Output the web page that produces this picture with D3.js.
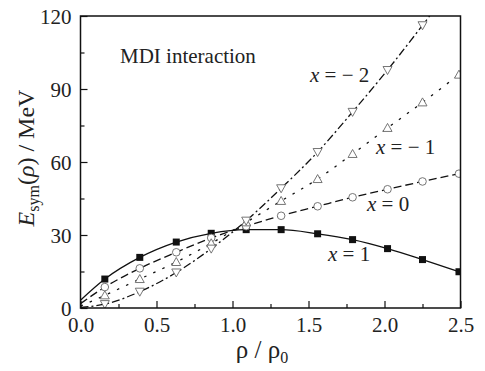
<!DOCTYPE html>
<html>
<head>
<meta charset="utf-8">
<script src="https://cdn.jsdelivr.net/npm/d3@7/dist/d3.min.js"></script>
</head>
<body style="margin:0">
<script>
var width = 485;
var height = 371;
var margin = { left: 80.5, top: 16, right: 24.5, bottom: 63 };
var plotW = width - margin.left - margin.right;
var plotH = height - margin.top - margin.bottom;
var fontName = "'Times New Roman', 'Liberation Serif', Tinos, serif";

// marker positions (rho / rho0)
var rho = [0.16, 0.39, 0.63, 0.86, 1.09, 1.32, 1.56, 1.79, 2.02, 2.25, 2.49];
// E_sym values at the markers, one list per x
var esymX1 = [11.9, 20.8, 27.1, 30.7, 32.2, 32.2, 30.5, 28.1, 24.4, 19.9, 14.9];
var esymX0 = [8.6, 16.3, 22.9, 28.8, 33.6, 37.9, 41.8, 45.5, 48.8, 52.0, 55.2];
var esymXm1 = [5.2, 11.9, 18.9, 26.6, 35.2, 44.0, 53.0, 63.3, 74.0, 84.5, 95.9];
var esymXm2 = [1.6, 6.7, 14.6, 24.4, 35.9, 49.2, 64.1, 80.6, 97.8, 116.2, 136];
// value of each curve at rho = 0
var esymAtZero = [3.2, 1.8, 0.8, 0.2];

var xTicks = [0, 0.5, 1.0, 1.5, 2.0, 2.5];
var xMinor = [0.25, 0.75, 1.25, 1.75, 2.25];
var yTicks = [0, 30, 60, 90, 120];
var yMinor = [15, 45, 75, 105];

var series = [
  { name: "1", values: esymX1, zero: esymAtZero[0], dash: null, marker: "square" },
  { name: "0", values: esymX0, zero: esymAtZero[1], dash: "8,4", marker: "circle" },
  { name: "\u2212 1", values: esymXm1, zero: esymAtZero[2], dash: "2.5,7.5", marker: "up" },
  { name: "\u2212 2", values: esymXm2, zero: esymAtZero[3], dash: "8,3,2,3", marker: "down" }
];

var svg = d3.select("body").append("svg")
  .attr("width", width)
  .attr("height", height);

var x = d3.scaleLinear().domain([0, 2.5]).range([0, plotW]);
var y = d3.scaleLinear().domain([0, 120]).range([plotH, 0]);

var g = svg.append("g").attr("transform", "translate(" + margin.left + "," + margin.top + ")");

g.append("clipPath").attr("id", "clip")
  .append("rect").attr("width", plotW).attr("height", plotH);

// curves
var line = d3.line()
  .x(function (d) { return x(d[0]); })
  .y(function (d) { return y(d[1]); })
  .curve(d3.curveMonotoneX);

var plot = g.append("g").attr("clip-path", "url(#clip)");

series.forEach(function (s) {
  var pts = [[0, s.zero]].concat(rho.map(function (r, i) { return [r, s.values[i]]; }));
  plot.append("path")
    .attr("d", line(pts))
    .attr("fill", "none")
    .attr("stroke", "#111")
    .attr("stroke-width", 1.3)
    .attr("stroke-dasharray", s.dash);
});

// markers
series.forEach(function (s) {
  var m = plot.selectAll(null)
    .data(rho.map(function (r, i) { return [r, s.values[i]]; }))
    .enter();
  if (s.marker == "square") {
    m.append("rect")
      .attr("x", function (d) { return x(d[0]) - 3.5; })
      .attr("y", function (d) { return y(d[1]) - 3.5; })
      .attr("width", 7).attr("height", 7)
      .attr("fill", "#111");
  } else if (s.marker == "circle") {
    m.append("circle")
      .attr("cx", function (d) { return x(d[0]); })
      .attr("cy", function (d) { return y(d[1]); })
      .attr("r", 3.8)
      .attr("fill", "#fff").attr("stroke", "#666").attr("stroke-width", 0.9);
  } else {
    var up = s.marker == "up";
    m.append("path")
      .attr("d", function (d) {
        var cx = x(d[0]), cy = y(d[1]);
        return up
          ? "M" + cx + "," + (cy - 4.5) + "L" + (cx + 4.5) + "," + (cy + 3.5) + "L" + (cx - 4.5) + "," + (cy + 3.5) + "Z"
          : "M" + cx + "," + (cy + 4.5) + "L" + (cx + 4.5) + "," + (cy - 3.5) + "L" + (cx - 4.5) + "," + (cy - 3.5) + "Z";
      })
      .attr("fill", "#fff").attr("stroke", "#666").attr("stroke-width", 0.9);
  }
});

// axes (ticks point inward)
var xAxis = g.append("g").attr("transform", "translate(0," + plotH + ")")
  .call(d3.axisBottom(x).tickValues(xTicks).tickSize(-7).tickPadding(0).tickFormat(d3.format(".1f")));
g.append("g").attr("transform", "translate(0," + plotH + ")")
  .call(d3.axisBottom(x).tickValues(xMinor).tickSize(-4).tickFormat(""));
var yAxis = g.append("g")
  .call(d3.axisLeft(y).tickValues(yTicks).tickSize(-7).tickPadding(0).tickFormat(d3.format("d")));
g.append("g")
  .call(d3.axisLeft(y).tickValues(yMinor).tickSize(-4).tickFormat(""));

g.selectAll(".domain").remove();
g.selectAll(".tick line").attr("stroke", "#111").attr("stroke-width", 1.2);
g.selectAll("g").attr("font-family", null).attr("font-size", null);

xAxis.selectAll("text")
  .style("font-family", fontName)
  .attr("font-size", 21)
  .attr("fill", "#222")
  .attr("dy", null)
  .attr("y", 24);
yAxis.selectAll("text")
  .style("font-family", fontName)
  .attr("font-size", 21)
  .attr("fill", "#222")
  .attr("dy", null)
  .attr("x", -9)
  .attr("y", 7);

// frame
g.append("rect")
  .attr("width", plotW).attr("height", plotH)
  .attr("fill", "none").attr("stroke", "#111").attr("stroke-width", 1.5);

// texts
function label(px, py, size) {
  return svg.append("text")
    .attr("x", px).attr("y", py)
    .style("font-family", fontName)
    .attr("font-size", size)
    .attr("fill", "#222");
}

label(120, 63, 21).text("MDI interaction");

var curveLabels = [[310, 82], [376, 154], [367, 211], [328, 261]];
[3, 2, 1, 0].forEach(function (k, i) {
  var t = label(curveLabels[i][0], curveLabels[i][1], 21);
  t.append("tspan").style("font-style", "italic").text("x");
  t.append("tspan").text(" = " + series[k].name);
});

// x title
var xt = label(262, 358, 25).attr("text-anchor", "middle");
xt.append("tspan").text("\u03c1 / \u03c1");
xt.append("tspan").attr("font-size", 16).attr("dy", 5).text("0");

// y title
var yt = svg.append("text")
  .attr("transform", "translate(34,158) rotate(-90)")
  .style("font-family", fontName)
  .attr("font-size", 24)
  .attr("fill", "#222")
  .attr("text-anchor", "middle");
yt.append("tspan").style("font-style", "italic").text("E");
yt.append("tspan").attr("font-size", 16).attr("dy", 5).text("sym");
yt.append("tspan").attr("dy", -5).text("(");
yt.append("tspan").style("font-style", "italic").text("\u03c1");
yt.append("tspan").text(") / MeV");
</script>
</body>
</html>
